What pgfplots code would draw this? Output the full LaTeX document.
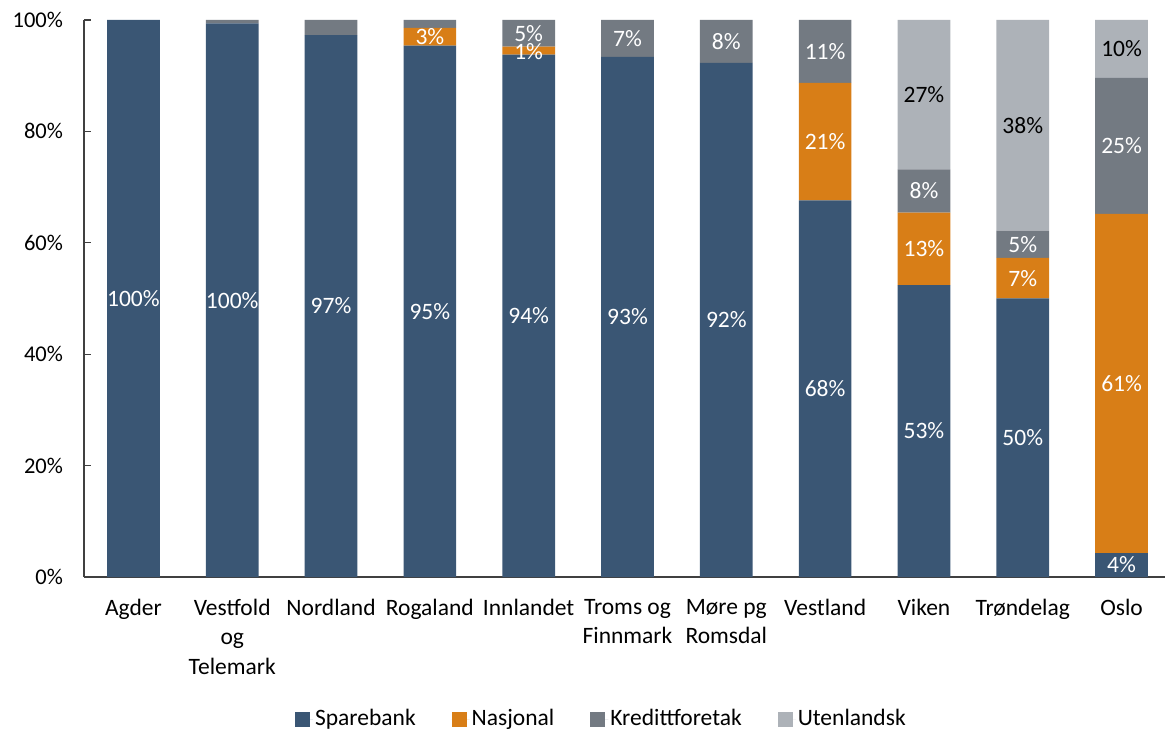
\documentclass[border=0pt]{standalone}
\usepackage{fontspec}
\setmainfont{Carlito}
\usepackage{pgfplots}
\pgfplotsset{compat=1.18}
\usepackage{pgfplotstable}
\definecolor{spb}{HTML}{3A5674}
\definecolor{nas}{HTML}{D87E17}
\definecolor{kre}{HTML}{737A82}
\definecolor{ute}{HTML}{ADB2B8}
\definecolor{axc}{HTML}{404040}

\pgfplotstableread{
x sb na kr ut
0 100 0 0 0
1 99.4 0 0.6 0
2 97.3 0 2.7 0
3 95.4 3.2 1.4 0
4 93.8 1.4 4.8 0
5 93.4 0 6.6 0
6 92.3 0 7.7 0
7 67.6 21.1 11.3 0
8 52.4 13.0 7.8 26.8
9 50.0 7.3 4.9 37.8
10 4.3 60.9 24.4 10.4
}\data

\pgfplotstableread{
x y l
0 50 100
1 49.7 100
2 48.65 97
3 47.7 95
3 97.0 3
4 46.9 94
4 94.4 1
4 97.5 5
5 46.7 93
5 96.7 7
6 46.15 92
6 96.15 8
7 33.8 68
7 78.15 21
7 94.35 11
8 26.2 53
8 58.9 13
8 69.3 8
9 25.0 50
9 53.65 7
9 59.75 5
10 2.15 4
10 34.75 61
10 77.4 25
}\whitelabels

\pgfplotstableread{
x y l
8 86.6 27
9 81.1 38
10 94.8 10
}\blacklabels

\begin{document}
\fontsize{23.5bp}{28bp}\selectfont
\begin{tikzpicture}
\useasboundingbox (-84bp,-154bp) rectangle (1081bp,557bp+20bp);
\begin{axis}[
  scale only axis,
  width=1087bp, height=557bp,
  ybar stacked,
  bar width=52.7bp,
  xmin=-0.5, xmax=10.5,
  ymin=0, ymax=100,
  axis x line*=bottom,
  axis y line*=left,
  axis line style={axc, line width=1.2bp, -},
  xtick={0,...,10},
  xticklabels={Agder,{Vestfold\\og\\Telemark},Nordland,Rogaland,Innlandet,{Troms og\\Finnmark},{Møre pg\\Romsdal},Vestland,Viken,Trøndelag,Oslo},
  xticklabel style={align=center, font=\fontsize{23.5bp}{29.5bp}\selectfont, yshift=-14bp},
  x tick style={draw=none},
  ytick={0,20,...,100},
  yticklabel={\pgfmathprintnumber{\tick}\%},
  yticklabel style={xshift=-13bp, font=\fontsize{22.5bp}{28bp}\selectfont},
  y tick style={axc, line width=1.2bp},
  tick align=inside,
  major tick length=7bp,
  /pgf/number format/assume math mode=true,
  legend style={at={(0.476,-0.255)}, anchor=center, draw=none, fill=none,
    legend columns=4, font=\fontsize{23.5bp}{26bp}\selectfont,
    /tikz/every even column/.append style={column sep=34bp},
    legend cell align=left, inner sep=0pt},
  legend image code/.code={\fill[#1] (0bp,-7.5bp) rectangle (15bp,7.5bp); \path (0bp,0bp) -- (18bp,0bp);},
  clip=false,
]
\addplot[fill=spb, draw=none] table[x=x, y=sb] {\data};
\addplot[fill=nas, draw=none] table[x=x, y=na] {\data};
\addplot[fill=kre, draw=none] table[x=x, y=kr] {\data};
\addplot[fill=ute, draw=none] table[x=x, y=ut] {\data};
\legend{Sparebank, Nasjonal, Kredittforetak, Utenlandsk}
\end{axis}
\begin{axis}[
  scale only axis,
  width=1087bp, height=557bp,
  xmin=-0.5, xmax=10.5,
  ymin=0, ymax=100,
  hide axis,
  clip=false,
]
\addplot[draw=none, mark=none, nodes near coords={\pgfplotspointmeta\%}, point meta=explicit symbolic,
  every node near coord/.append style={anchor=center, text=white, font=\fontsize{23.5bp}{26bp}\selectfont}]
  table[x=x, y=y, meta=l] {\whitelabels};
\addplot[draw=none, mark=none, nodes near coords={\pgfplotspointmeta\%}, point meta=explicit symbolic,
  every node near coord/.append style={anchor=center, text=black, font=\fontsize{23.5bp}{26bp}\selectfont}]
  table[x=x, y=y, meta=l] {\blacklabels};
\end{axis}
\end{tikzpicture}
\end{document}
